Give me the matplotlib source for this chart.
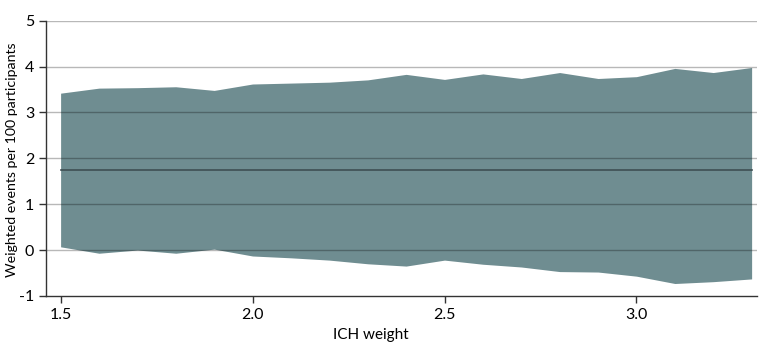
import numpy as np
import matplotlib
matplotlib.use("Agg")
import matplotlib.pyplot as plt

plt.rcParams['font.family'] = ['Lato', 'DejaVu Sans']

# ICH weight values along x
ich_weight = [1.5, 1.6, 1.7, 1.8, 1.9, 2.0, 2.1, 2.2, 2.3, 2.4,
              2.5, 2.6, 2.7, 2.8, 2.9, 3.0, 3.1, 3.2, 3.3]
upper = [3.42, 3.53, 3.54, 3.56, 3.48, 3.62, 3.64, 3.66, 3.71, 3.83,
         3.72, 3.84, 3.74, 3.87, 3.74, 3.78, 3.96, 3.87, 3.98]
lower = [0.07, -0.07, 0.0, -0.07, 0.02, -0.13, -0.17, -0.22, -0.30, -0.35,
         -0.22, -0.31, -0.37, -0.47, -0.48, -0.57, -0.73, -0.69, -0.63]
center = 1.74

yticks = [-1, 0, 1, 2, 3, 4, 5]
xticks = [1.5, 2.0, 2.5, 3.0]

fig = plt.figure(figsize=(7.8, 3.51), dpi=100)
ax = fig.add_axes([0.059, 0.157, 0.912, 0.784])

ax.fill_between(ich_weight, lower, upper, color='#6f8d91', linewidth=0, zorder=1)
ax.plot([ich_weight[0], ich_weight[-1]], [center, center], color='#3e4f53', linewidth=1.2, zorder=3)

for y in yticks[1:]:
    ax.axhline(y, color='black', alpha=0.28, linewidth=1.0, zorder=2)

ax.set_xlim(1.462, 3.315)
ax.set_ylim(-1, 5)
ax.set_yticks(yticks)
ax.set_yticklabels([str(v) for v in yticks])
ax.set_xticks(xticks)
ax.set_xticklabels(['1.5', '2.0', '2.5', '3.0'])

for s in ['top', 'right']:
    ax.spines[s].set_visible(False)
for s in ['left', 'bottom']:
    ax.spines[s].set_color('#333333')
    ax.spines[s].set_linewidth(1.0)

ax.tick_params(axis='both', colors='#333333', labelcolor='black', labelsize=11.5, length=5, width=1.0)
ax.set_xlabel('ICH weight', fontsize=11)
ax.xaxis.set_label_coords(0.457, -0.115)
fig.text(0.016, 0.544, 'Weighted events per 100 participants', rotation=90,
         fontsize=10.2, ha='center', va='center')

fig.savefig('out.png', dpi=100)
